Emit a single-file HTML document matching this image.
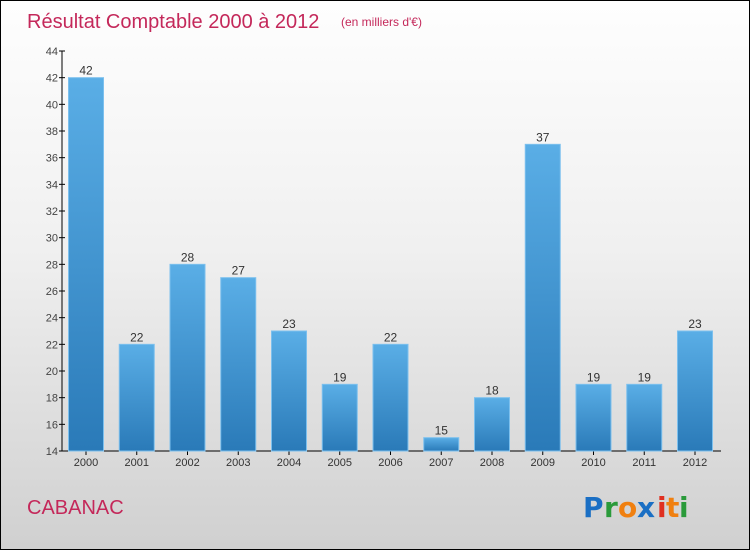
<!DOCTYPE html>
<html><head><meta charset="utf-8"><style>
body{margin:0;width:750px;height:550px;overflow:hidden;font-family:"Liberation Sans",sans-serif}
#root{position:relative;width:748px;height:548px;border:1px solid #000;background:linear-gradient(#fefefe 0%,#f0f0f0 45%,#d0d0d0 100%)}
</style></head><body>
<div id="root">
<svg id="chart" width="748" height="548" xmlns="http://www.w3.org/2000/svg">
<defs><linearGradient id="bg" x1="0" y1="0" x2="0" y2="1"><stop offset="0" stop-color="#5aaee6"/><stop offset="1" stop-color="#2a7ab8"/></linearGradient></defs>
<text x="26" y="27" font-size="20" fill="#c4285a">Résultat Comptable 2000 à 2012</text>
<text x="340" y="25" font-size="12" fill="#c4285a">(en milliers d'€)</text>
<text x="26" y="513" font-size="20" fill="#c4285a">CABANAC</text>
<g font-size="28" font-family="'DejaVu Sans',sans-serif" font-weight="bold">
<text x="582" y="516" fill="#1a6fc4">P</text><text x="603" y="516" fill="#2a9a3a">r</text><text x="617" y="516" fill="#f08010">o</text><text x="636" y="516" fill="#1a6fc4">x</text><text x="656" y="516" fill="#e03020">i</text><text x="665" y="516" fill="#f08010">t</text><text x="678" y="516" fill="#2a9a3a">i</text>
</g>
<g id="axes"></g><g id="bars"></g>
</svg></div>
<script>
const years=["2000","2001","2002","2003","2004","2005","2006","2007","2008","2009","2010","2011","2012"];
const values=[42,22,28,27,23,19,22,15,18,37,19,19,23];
const yTicks=[14,16,18,20,22,24,26,28,30,32,34,36,38,40,42,44];
const NS="http://www.w3.org/2000/svg";
const yMin=14,yMax=44,plotTop=50,plotBottom=450,x0=61,step=50.75,bw=35;
const yS=v=>plotBottom-(v-yMin)/(yMax-yMin)*(plotBottom-plotTop);
const xc=i=>85+i*step;
function mk(t,a,p){const e=document.createElementNS(NS,t);for(const k in a)e.setAttribute(k,a[k]);p.appendChild(e);return e;}
const ax=document.getElementById('axes'),bs=document.getElementById('bars');
const yl=mk('line',{x1:x0,y1:plotTop,x2:x0,y2:plotBottom,stroke:'#000'},ax);


const xl=mk('line',{x1:x0,y1:plotBottom,x2:720,y2:plotBottom,stroke:'#000'},ax);


yTicks.forEach(t=>{
 mk('line',{x1:x0-3,x2:x0+3,y1:yS(t),y2:yS(t),stroke:'#000'},ax);
 const tx=mk('text',{x:x0-4,y:yS(t)+4,'text-anchor':'end','font-size':11,fill:'#444'},ax);
 tx.textContent=t;
 
 
});
years.forEach((yr,i)=>{
 const v=values[i],c=xc(i);
 mk('line',{x1:c,x2:c,y1:plotBottom,y2:plotBottom+4,stroke:'#000'},ax);
 const lb=mk('text',{x:c,y:plotBottom+15,'text-anchor':'middle','font-size':11,fill:'#333'},ax);
 lb.textContent=yr;
 
 
 const r=mk('rect',{x:c-bw/2,y:yS(v),width:bw,height:plotBottom-yS(v),fill:'url(#bg)',stroke:'#7cc0ee','stroke-width':1},bs);
 
 
 const vl=mk('text',{x:c,y:yS(v)-3,'text-anchor':'middle','font-size':12,fill:'#333'},bs);
 vl.textContent=v;
 
 
});
</script>
</body></html>
